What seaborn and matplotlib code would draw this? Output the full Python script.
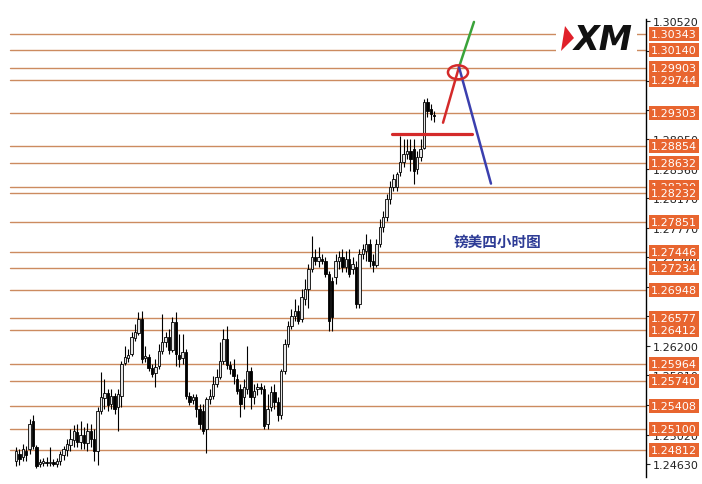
import numpy as np
import pandas as pd
import matplotlib
matplotlib.use('Agg')
import matplotlib.pyplot as plt
import matplotlib.patches as mpatches
import matplotlib.transforms as mtransforms
import seaborn as sns

# GBP/USD 4-hour candles
opens = [1.2467, 1.2476, 1.2472, 1.2480, 1.2483, 1.2520, 1.2486, 1.2463, 1.2464, 1.2466,
         1.2464, 1.2466, 1.2463, 1.2467, 1.2475, 1.2482, 1.2488, 1.2495, 1.2506, 1.2492,
         1.2502, 1.2491, 1.2507, 1.2496, 1.2480, 1.2533, 1.2551, 1.2557, 1.2543, 1.2553,
         1.2539, 1.2553, 1.2597, 1.2604, 1.2609, 1.2631, 1.2637, 1.2656, 1.2604, 1.2605,
         1.2591, 1.2584, 1.2593, 1.2613, 1.2625, 1.2632, 1.2615, 1.2652, 1.2608, 1.2604,
         1.2612, 1.2553, 1.2548, 1.2552, 1.2536, 1.2533, 1.2510, 1.2549, 1.2553, 1.2569,
         1.2579, 1.2600, 1.2629, 1.2595, 1.2589, 1.2576, 1.2563, 1.2552, 1.2563, 1.2587,
         1.2552, 1.2563, 1.2565, 1.2563, 1.2516, 1.2539, 1.2559, 1.2545, 1.2528, 1.2587,
         1.2623, 1.2647, 1.2660, 1.2667, 1.2656, 1.2682, 1.2696, 1.2722, 1.2738, 1.2733,
         1.2736, 1.2733, 1.2716, 1.2706, 1.2712, 1.2733, 1.2738, 1.2725, 1.2736, 1.2722,
         1.2725, 1.2676, 1.2742, 1.2746, 1.2756, 1.2733, 1.2728, 1.2756, 1.2778, 1.2791,
         1.2815, 1.2831, 1.2832, 1.2851, 1.2865, 1.2875, 1.2879, 1.2882, 1.2855, 1.2871,
         1.2884, 1.2944, 1.2935, 1.2927]
highs = [1.2486, 1.2483, 1.2490, 1.2487, 1.2523, 1.2528, 1.2488, 1.2470, 1.2471, 1.2472,
         1.2486, 1.2470, 1.2471, 1.2480, 1.2487, 1.2496, 1.2510, 1.2515, 1.2516, 1.2520,
         1.2512, 1.2518, 1.2516, 1.2510, 1.2539, 1.2585, 1.2576, 1.2563, 1.2563, 1.2557,
         1.2563, 1.2600, 1.2620, 1.2616, 1.2639, 1.2649, 1.2665, 1.2667, 1.2620, 1.2609,
         1.2596, 1.2603, 1.2623, 1.2662, 1.2639, 1.2643, 1.2658, 1.2665, 1.2636, 1.2636,
         1.2616, 1.2559, 1.2556, 1.2556, 1.2543, 1.2543, 1.2552, 1.2563, 1.2580, 1.2589,
         1.2625, 1.2643, 1.2647, 1.2600, 1.2603, 1.2583, 1.2569, 1.2576, 1.2620, 1.2592,
         1.2569, 1.2571, 1.2571, 1.2568, 1.2556, 1.2567, 1.2569, 1.2552, 1.2589, 1.2629,
         1.2653, 1.2669, 1.2682, 1.2675, 1.2696, 1.2709, 1.2729, 1.2766, 1.2749, 1.2752,
         1.2742, 1.2738, 1.2720, 1.2712, 1.2742, 1.2746, 1.2749, 1.2746, 1.2749, 1.2738,
         1.2733, 1.2749, 1.2756, 1.2769, 1.2762, 1.2742, 1.2762, 1.2789, 1.2799, 1.2822,
         1.2839, 1.2849, 1.2852, 1.2899, 1.2895, 1.2895, 1.2895, 1.2895, 1.2879, 1.2895,
         1.2948, 1.2950, 1.2942, 1.2932]
lows = [1.2460, 1.2462, 1.2467, 1.2467, 1.2476, 1.2483, 1.2458, 1.2459, 1.2460, 1.2460,
        1.2460, 1.2460, 1.2459, 1.2462, 1.2468, 1.2474, 1.2480, 1.2486, 1.2486, 1.2483,
        1.2483, 1.2480, 1.2486, 1.2467, 1.2462, 1.2529, 1.2536, 1.2533, 1.2536, 1.2529,
        1.2507, 1.2539, 1.2595, 1.2599, 1.2607, 1.2627, 1.2635, 1.2597, 1.2599, 1.2587,
        1.2579, 1.2565, 1.2589, 1.2609, 1.2619, 1.2609, 1.2612, 1.2593, 1.2592, 1.2596,
        1.2549, 1.2541, 1.2543, 1.2525, 1.2510, 1.2503, 1.2478, 1.2543, 1.2549, 1.2565,
        1.2576, 1.2596, 1.2589, 1.2583, 1.2569, 1.2556, 1.2525, 1.2536, 1.2556, 1.2536,
        1.2543, 1.2555, 1.2556, 1.2510, 1.2510, 1.2533, 1.2536, 1.2520, 1.2523, 1.2583,
        1.2619, 1.2643, 1.2653, 1.2649, 1.2652, 1.2675, 1.2671, 1.2719, 1.2728, 1.2725,
        1.2729, 1.2712, 1.2640, 1.2640, 1.2702, 1.2722, 1.2719, 1.2719, 1.2712, 1.2716,
        1.2671, 1.2671, 1.2736, 1.2733, 1.2725, 1.2719, 1.2725, 1.2752, 1.2772, 1.2786,
        1.2809, 1.2826, 1.2826, 1.2846, 1.2858, 1.2869, 1.2853, 1.2835, 1.2849, 1.2866,
        1.2882, 1.2924, 1.2920, 1.2918]
closes = [1.2480, 1.2470, 1.2483, 1.2475, 1.2516, 1.2487, 1.2460, 1.2466, 1.2467, 1.2464,
          1.2466, 1.2463, 1.2467, 1.2476, 1.2483, 1.2490, 1.2496, 1.2507, 1.2492, 1.2502,
          1.2491, 1.2507, 1.2496, 1.2480, 1.2533, 1.2552, 1.2557, 1.2541, 1.2553, 1.2536,
          1.2556, 1.2596, 1.2605, 1.2608, 1.2632, 1.2639, 1.2656, 1.2603, 1.2607, 1.2591,
          1.2583, 1.2592, 1.2613, 1.2625, 1.2632, 1.2615, 1.2652, 1.2609, 1.2603, 1.2612,
          1.2553, 1.2545, 1.2552, 1.2536, 1.2516, 1.2507, 1.2549, 1.2553, 1.2569, 1.2579,
          1.2600, 1.2629, 1.2595, 1.2589, 1.2580, 1.2560, 1.2543, 1.2565, 1.2587, 1.2552,
          1.2560, 1.2565, 1.2563, 1.2513, 1.2536, 1.2559, 1.2545, 1.2528, 1.2587, 1.2623,
          1.2647, 1.2660, 1.2667, 1.2653, 1.2685, 1.2696, 1.2722, 1.2738, 1.2733, 1.2738,
          1.2733, 1.2716, 1.2653, 1.2659, 1.2733, 1.2738, 1.2725, 1.2736, 1.2716, 1.2729,
          1.2676, 1.2742, 1.2749, 1.2756, 1.2733, 1.2728, 1.2756, 1.2778, 1.2791, 1.2815,
          1.2831, 1.2842, 1.2849, 1.2865, 1.2875, 1.2879, 1.2869, 1.2853, 1.2871, 1.2882,
          1.2944, 1.2932, 1.2928, 1.2926]

# Support / resistance levels (orange tags)
levels = [1.30343, 1.30140, 1.29903, 1.29744, 1.29303, 1.28854, 1.28632, 1.28320,
          1.28232, 1.27851, 1.27446, 1.27234, 1.26948, 1.26577, 1.26412, 1.25964,
          1.25740, 1.25408, 1.25100, 1.24812]

# Price scale ticks
scale_ticks = [1.24630, 1.25020, 1.25420, 1.25810, 1.26200, 1.26600, 1.26990, 1.27380,
               1.27770, 1.28170, 1.28560, 1.28950, 1.29340, 1.29730, 1.30130, 1.30520]

# Hand-drawn projection (bar index, price)
support_x = [110.6, 134.1]
support_y = [1.2902, 1.2902]
rise_x = [125.6, 130.3]
rise_y = [1.2917, 1.2991]
breakout_x = [130.3, 134.7]
breakout_y = [1.2991, 1.3051]
drop_x = [130.3, 139.7]
drop_y = [1.2991, 1.2836]
circle_x, circle_y = 130.0, 1.2984

title = '镑美四小时图'

df = pd.DataFrame({'open': opens, 'high': highs, 'low': lows, 'close': closes})
df['bar'] = np.arange(len(df))
df['up'] = df['close'] >= df['open']

sns.set_style('white')
plt.rcParams['font.family'] = ['DejaVu Sans', 'Noto Sans CJK SC']

W, H = 702, 485
fig = plt.figure(figsize=(W / 100, H / 100), dpi=100)
ax = fig.add_axes([0, (H - 478) / H, 646 / W, (478 - 20) / H])

# Level lines
for lv in levels:
    ax.axhline(lv, xmin=10 / 646, xmax=1, color='#CC8B60', lw=1.0, zorder=1)

# Candles: wicks then bodies
ax.vlines(df['bar'], df['low'], df['high'], color='black', lw=0.8, zorder=3)
body_bottom = np.minimum(df['open'], df['close'])
body_height = np.maximum((df['close'] - df['open']).abs(), 0.00004)
ax.bar(df['bar'], body_height, bottom=body_bottom, width=0.72,
       color=np.where(df['up'], '#e6e6e6', 'black'), edgecolor='black',
       linewidth=0.6, zorder=4)

# Projection lines
sns.lineplot(x=support_x, y=support_y, ax=ax, color='#D42A2A', lw=2.3, zorder=5)
sns.lineplot(x=rise_x, y=rise_y, ax=ax, color='#D42A2A', lw=1.8, zorder=5)
sns.lineplot(x=breakout_x, y=breakout_y, ax=ax, color='#3AA33A', lw=1.8, zorder=5)
sns.lineplot(x=drop_x, y=drop_y, ax=ax, color='#3B3FAE', lw=1.8, zorder=5)
ax.add_patch(mpatches.Ellipse((circle_x, circle_y), 5.9, 0.00186, fill=False,
                              edgecolor='#D42A2A', lw=1.8, zorder=6))

ax.text(141.5, 1.2760, title, fontsize=10.5, color='#2E3C96', ha='center',
        va='center', fontweight='bold', family=['Noto Sans CJK SC', 'DejaVu Sans'])

ax.set_xlim(-4.71, 185.3)
ax.set_ylim(1.24458, 1.30549)
ax.set_xticks([])

# Right price scale
ax.yaxis.tick_right()
ax.set_yticks(scale_ticks)
ax.set_yticklabels([f'{t:.5f}' for t in scale_ticks])
ax.tick_params(axis='y', length=3, width=0.8, colors='#222222', labelsize=8, pad=2,
               direction='out', right=True, left=False)
for side in ['top', 'left', 'bottom']:
    ax.spines[side].set_visible(False)
ax.spines['right'].set_color('black')
ax.spines['right'].set_linewidth(1.0)

tag_tr = mtransforms.blended_transform_factory(ax.transAxes, ax.transData)
for lv in levels:
    ax.text(651 / 646, lv, f'{lv:.5f}', transform=tag_tr, ha='left', va='center',
            fontsize=8, color='white', zorder=8, clip_on=False,
            bbox=dict(boxstyle='square,pad=0.18', fc='#E8652F', ec='none'))

# XM logo
px = mtransforms.Affine2D().scale(1 / W, -1 / H).translate(0, 1) + fig.transFigure
fig.add_artist(mpatches.Rectangle((556, 25), 81, 34, transform=px, fc='white', ec='none'))
fig.add_artist(mpatches.Polygon([(565, 27), (574, 39), (561, 52)], closed=True,
                                transform=px, fc='#E0202A', ec='none'))
fig.text(603 / W, 1 - 41 / H, 'XM', fontsize=24, fontweight='bold', fontstyle='italic',
         ha='center', va='center', color='#111111', family='DejaVu Sans')

fig.savefig('out.png', dpi=100)
